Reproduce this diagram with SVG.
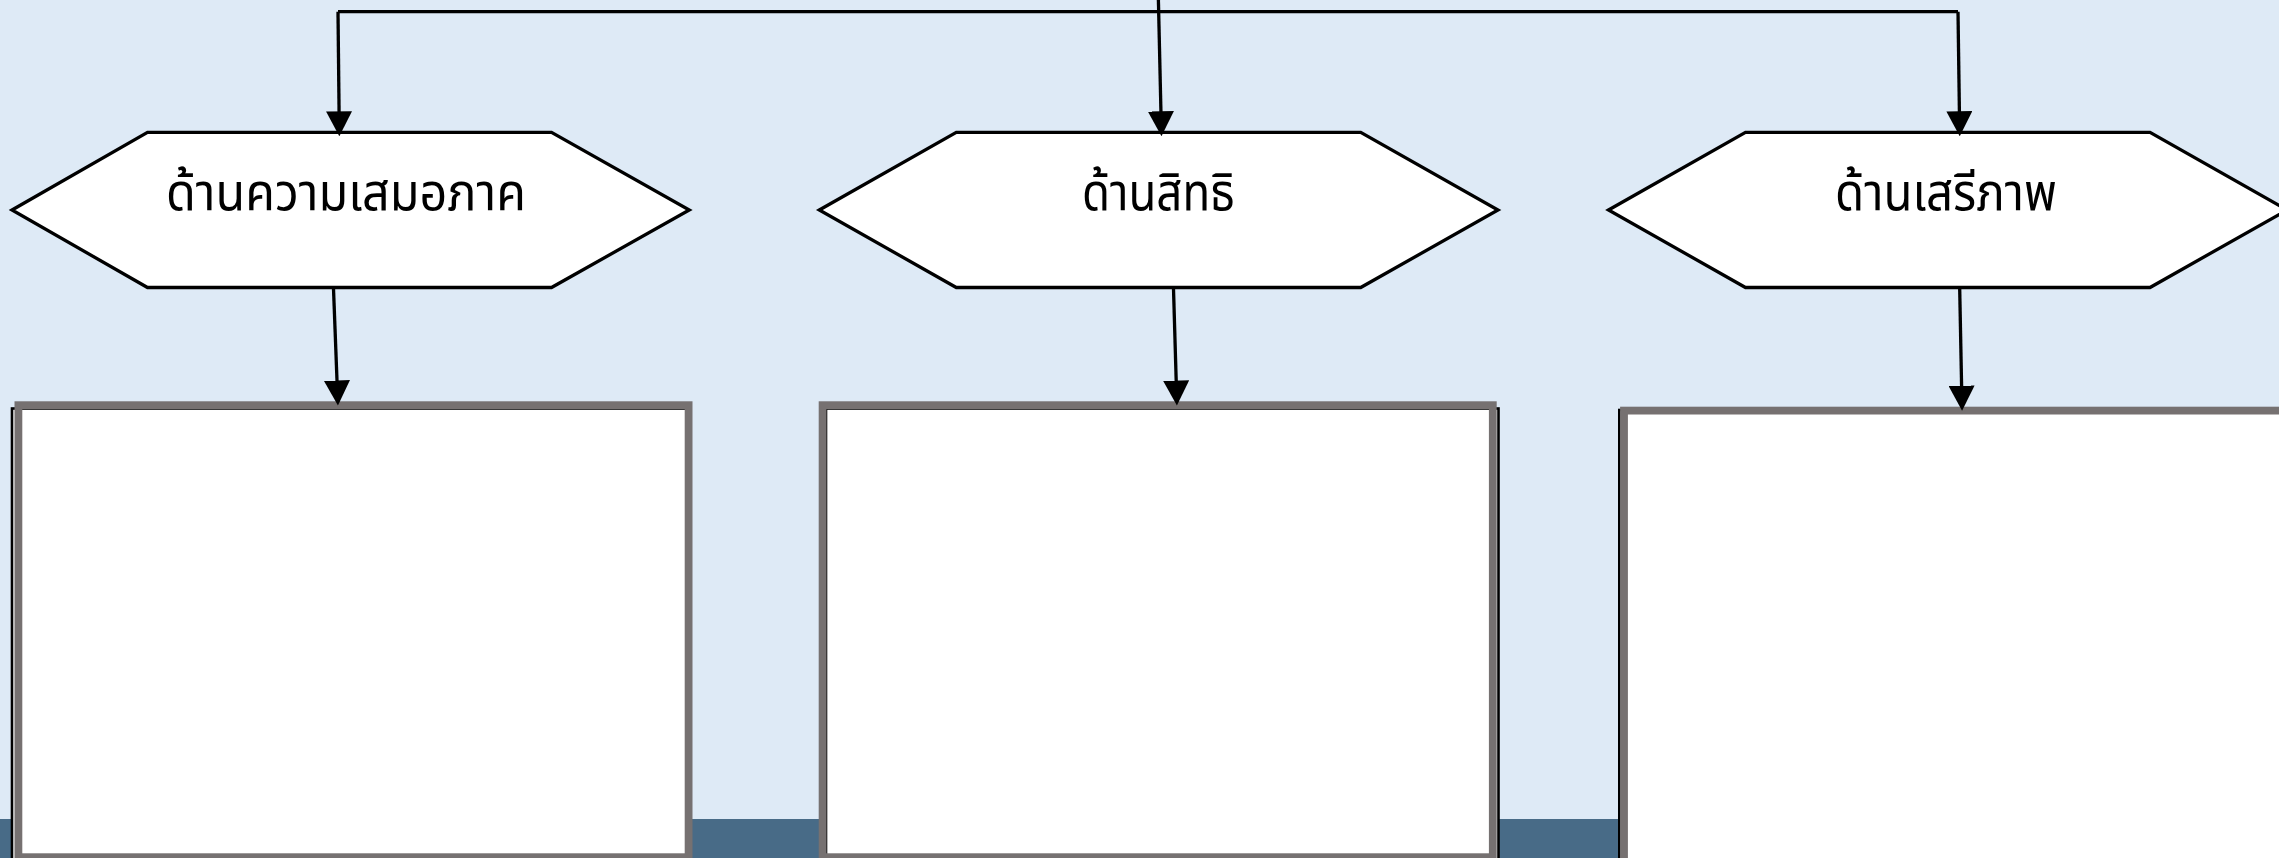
<svg xmlns="http://www.w3.org/2000/svg" width="2279" height="858" viewBox="0 0 2279 858">
<style>
.hex{fill:#ffffff;stroke:#000000;stroke-width:3.3;stroke-linejoin:miter}
.lbl{font-family:"Noto Sans Thai","Noto Sans","DejaVu Sans",sans-serif;font-size:52px;font-weight:400;fill:#000000;text-anchor:middle}
.box{fill:none;stroke:#767171;stroke-width:7.8}
.under{fill:#ffffff;stroke:#000000;stroke-width:2.6}
.con{fill:none;stroke:#000000;stroke-width:3.3}
.arr{fill:none;stroke:#000000;stroke-width:3.3;marker-end:url(#ah)}
</style>
<defs>
<marker id="ah" markerUnits="userSpaceOnUse" viewBox="0 0 25 26" markerWidth="25" markerHeight="26" refX="21" refY="13" orient="auto">
<path d="M0,0 L25,13 L0,26 z" fill="#000000"/>
</marker>
</defs>
<rect x="0" y="0" width="2279" height="858" fill="#deeaf6"/>
<rect x="0" y="819" width="2279" height="39" fill="#486b87"/>

<g id="node-equality">
<polygon class="hex" points="12,210 147.5,132.3 551.5,132.3 689.3,210 551.5,287.5 147.5,287.5"/>
<text class="lbl" x="346" y="210" textLength="360" lengthAdjust="spacingAndGlyphs">ด้านความเสมอภาค</text>
</g>
<g id="node-rights">
<polygon class="hex" points="819.3,210 956.3,132.3 1360.7,132.3 1498,210 1360.7,287.5 956.3,287.5"/>
<text class="lbl" x="1158.4" y="210" textLength="153" lengthAdjust="spacingAndGlyphs">ด้านสิทธิ</text>
</g>
<g id="node-liberty">
<polygon class="hex" points="1608.5,210 1745.5,132.3 2150,132.3 2287,210 2150,287.5 1745.5,287.5"/>
<text class="lbl" x="1946" y="210" textLength="222" lengthAdjust="spacingAndGlyphs">ด้านเสรีภาพ</text>
</g>

<g id="box-equality">
<rect class="under" x="12" y="408.5" width="676" height="460"/>
<rect class="box" x="18.4" y="405.2" width="670.2" height="452"/>
</g>
<g id="box-rights">
<rect class="under" x="826" y="408.5" width="672.5" height="460"/>
<rect class="box" x="822.6" y="405.2" width="670.2" height="452"/>
</g>
<g id="box-liberty">
<rect class="under" x="1619.3" y="410" width="700" height="460"/>
<rect class="box" x="1624" y="410.6" width="690" height="452"/>
</g>

<g id="connectors">
<path class="con" d="M338,11.7 L1958,11.7"/>
<path class="arr" d="M338,11.7 L339.3,132.3"/>
<path class="arr" d="M1158.4,0 L1161.4,132.3"/>
<path class="arr" d="M1958,11.7 L1959.7,132.3"/>
<path class="arr" d="M333.5,288.8 L337.8,401.5"/>
<path class="arr" d="M1173.5,288.8 L1176.8,401.5"/>
<path class="arr" d="M1959.7,288.8 L1962,406.7"/>
</g>
</svg>
